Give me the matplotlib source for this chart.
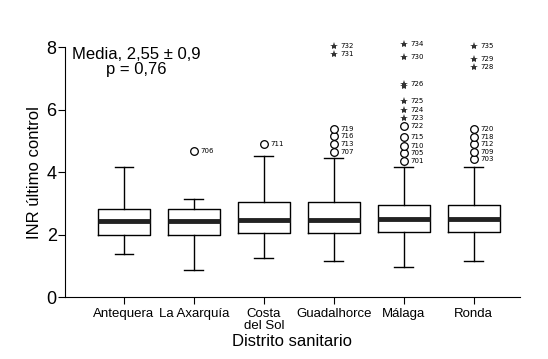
import matplotlib
matplotlib.use("Agg")
from matplotlib import pyplot as plt

plt.rcParams['font.family'] = ['Liberation Sans', 'DejaVu Sans']

districts = ["Antequera", "La Axarquía", "Costa\ndel Sol", "Guadalhorce", "Málaga", "Ronda"]

# box statistics
q1 = [1.98, 1.98, 2.05, 2.05, 2.07, 2.07]
med = [2.43, 2.43, 2.46, 2.45, 2.49, 2.49]
q3 = [2.83, 2.83, 3.03, 3.03, 2.93, 2.93]
whislo = [1.38, 0.86, 1.24, 1.15, 0.95, 1.15]
whishi = [4.16, 3.13, 4.50, 4.46, 4.17, 4.17]

# outliers (circles) and extremes (stars): (district index, value, case id)
outliers = [
    (1, 4.67, "706"),
    (2, 4.90, "711"),
    (3, 4.65, "707"), (3, 4.90, "713"), (3, 5.15, "716"), (3, 5.39, "719"),
    (4, 4.36, "701"), (4, 4.62, "705"), (4, 4.85, "710"), (4, 5.12, "715"), (4, 5.47, "722"),
    (5, 4.42, "703"), (5, 4.65, "709"), (5, 4.90, "712"), (5, 5.13, "718"), (5, 5.38, "720"),
]
extremes = [
    (3, 7.78, "731"), (3, 8.04, "732"),
    (4, 5.73, "723"), (4, 5.98, "724"), (4, 6.27, "725"), (4, 6.74, ""), (4, 6.82, "726"),
    (4, 7.67, "730"), (4, 8.09, "734"),
    (5, 7.36, "728"), (5, 7.62, "729"), (5, 8.04, "735"),
]

stats = []
for i in range(len(districts)):
    stats.append(dict(med=med[i], q1=q1[i], q3=q3[i], whislo=whislo[i],
                      whishi=whishi[i], fliers=[]))

fig = plt.figure(figsize=(5.48, 3.59), dpi=100)
ax = fig.add_axes([0.1186, 0.1727, 0.830, 0.696])

pos = list(range(1, len(districts) + 1))
ax.bxp(stats, positions=pos, widths=0.74, showfliers=False,
       boxprops=dict(color="black", linewidth=1),
       whiskerprops=dict(color="black", linewidth=1),
       capprops=dict(color="black", linewidth=1),
       capwidths=0.27,
       medianprops=dict(color="#222222", linewidth=3.5, solid_capstyle="butt"))

for i, v, lab in outliers:
    ax.plot(pos[i], v, marker="o", ms=5.5, mfc="white", mec="black", mew=0.9,
            clip_on=False, zorder=3)
    ax.text(pos[i] + 0.1, v, lab, fontsize=5, va="center", ha="left",
            family="DejaVu Sans")
for i, v, lab in extremes:
    ax.plot(pos[i], v, marker="*", ms=6, color="#333333", mew=0,
            clip_on=False, zorder=3)
    if lab:
        ax.text(pos[i] + 0.1, v, lab, fontsize=5, va="center", ha="left",
                family="DejaVu Sans")

ax.set_xlim(0.157, 6.66)
ax.set_ylim(0, 8)
ax.set_yticks([0, 2, 4, 6, 8])
ax.set_xticks(pos)
ax.set_xticklabels(districts, fontsize=9.5, linespacing=1.0)
ax.tick_params(axis="y", labelsize=13, length=5, pad=1)
ax.tick_params(axis="x", length=5, pad=3)
ax.spines["top"].set_visible(False)
ax.spines["right"].set_visible(False)
ax.set_ylabel("INR último control", fontsize=12, labelpad=3)
ax.set_xlabel("Distrito sanitario", fontsize=12, labelpad=1)

ax.text(0.26, 7.52, "Media, 2,55 ± 0,9\np = 0,76", fontsize=12,
        va="center", ha="left", multialignment="center", linespacing=0.95)

fig.savefig("out.png", dpi=100)
